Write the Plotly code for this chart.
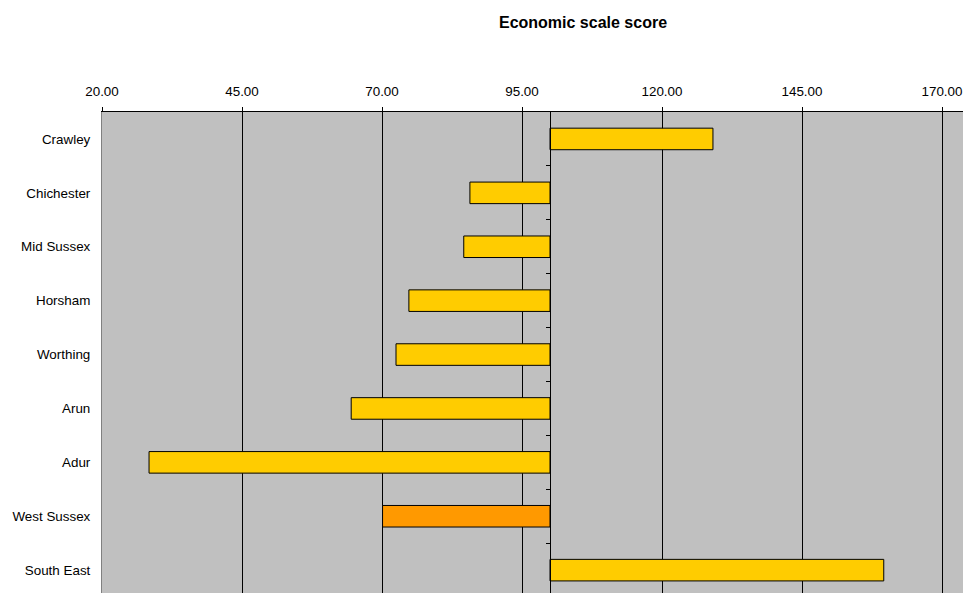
import plotly.graph_objects as go

categories = ["Crawley", "Chichester", "Mid Sussex", "Horsham", "Worthing",
              "Arun", "Adur", "West Sussex", "South East"]
scores = [129.1, 85.7, 84.6, 74.8, 72.5, 64.5, 28.4, 70.1, 159.6]
bar_colors = ["#FFCC00"] * 7 + ["#FF9900", "#FFCC00"]
baseline = 100
x_ticks = [20, 45, 70, 95, 120, 145, 170]
title_text = "Economic scale score"

W, H = 963, 593
ML, MT = 102, 112
x_min = 20
px_per_unit = 5.6
x_max = x_min + (W - ML) / px_per_unit
row_px = 53.9
y_top = -0.5
y_bottom = y_top + (H - MT) / row_px

fig = go.Figure()
fig.add_trace(go.Bar(
    y=categories,
    x=[s - baseline for s in scores],
    base=baseline,
    orientation="h",
    width=0.4,
    marker=dict(color=bar_colors, line=dict(color="#000000", width=1)),
    hoverinfo="skip",
))

boundaries = [i + 0.5 for i in range(len(categories) - 1)]
fig.update_layout(
    width=W, height=H,
    margin=dict(l=ML, r=0, t=MT, b=0, pad=0),
    paper_bgcolor="#FFFFFF",
    plot_bgcolor="#C0C0C0",
    showlegend=False,
    font=dict(family="Liberation Sans, Arial, sans-serif", color="#000000"),
    title=dict(text="<b>" + title_text + "</b>", xref="container", yref="container",
               x=583 / W, y=1 - 22 / H, xanchor="center", yanchor="middle",
               font=dict(size=16)),
    xaxis=dict(
        side="top", range=[x_min, x_max], tickvals=x_ticks, tickformat=".2f",
        showgrid=True, gridcolor="#000000", gridwidth=1, zeroline=False,
        showline=True, linecolor="#000000", linewidth=1,
        ticks="outside", ticklen=4, tickcolor="#000000",
        ticklabelstandoff=6,
        tickfont=dict(size=13.4), fixedrange=True,
    ),
    yaxis=dict(
        type="category", range=[y_bottom, y_top], showgrid=False, zeroline=False,
        showline=True, linecolor="#808080", linewidth=1,
        ticks="", ticklabelstandoff=8, tickfont=dict(size=13.4),
        fixedrange=True,
    ),
    yaxis2=dict(
        overlaying="y", anchor="free",
        position=(baseline - x_min) / (x_max - x_min),
        side="left", range=[y_bottom, y_top], tickvals=boundaries,
        showticklabels=False, showgrid=False, zeroline=False,
        showline=True, linecolor="#000000", linewidth=1,
        ticks="outside", ticklen=4, tickcolor="#000000",
        fixedrange=True,
    ),
)
fig.add_trace(go.Scatter(x=[baseline], y=[0], yaxis="y2", mode="markers",
                         marker=dict(opacity=0), hoverinfo="skip", showlegend=False))

fig.write_html("out.html",
               config={"displayModeBar": False, "staticPlot": True},
               post_script="document.body.style.margin='0';document.body.style.overflow='hidden';")
